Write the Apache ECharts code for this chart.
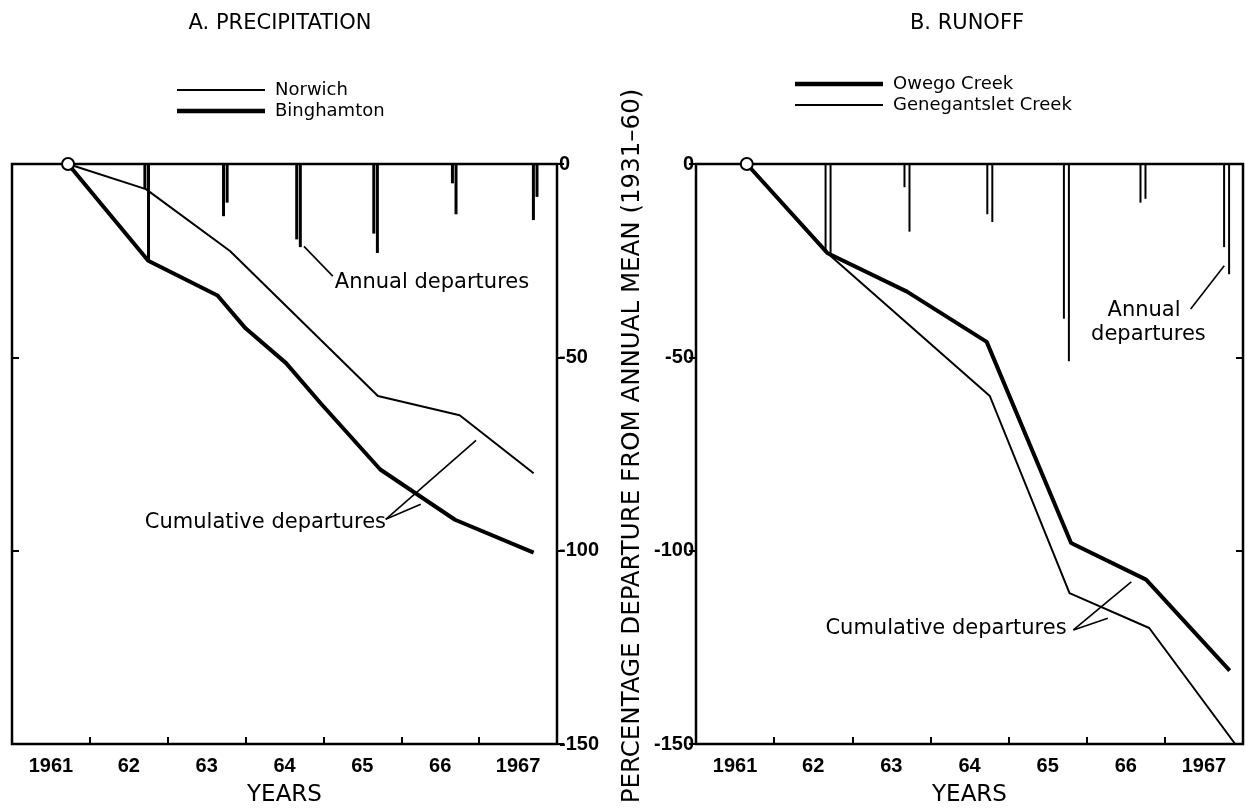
<!DOCTYPE html>
<html>
<head>
<meta charset="utf-8">
<script src="https://cdn.jsdelivr.net/npm/echarts@6/dist/echarts.min.js"></script>
<style>
  html, body { margin: 0; padding: 0; background: #fff; }
  #chart { width: 1247px; height: 812px; }
</style>
</head>
<body>
<div id="chart"></div>
<script>
const years = ['1961', '62', '63', '64', '65', '66', '1967'];

// cumulative departures, [decimal year, percent]
const norwichCum = [[1961.72, 0], [1962.72, -6.5], [1963.8, -22.5], [1965.7, -60], [1966.75, -65], [1967.7, -80]];
const binghamtonCum = [[1961.72, 0], [1962.75, -25], [1963.64, -34], [1964.0, -42.5], [1964.52, -51.5],
  [1964.97, -62], [1965.73, -79], [1966.69, -92], [1967.7, -100.5]];
const owegoCum = [[1961.65, 0], [1962.68, -23], [1963.7, -33], [1964.72, -46], [1965.8, -98], [1966.76, -107.5], [1967.83, -131]];
const genegantsletCum = [[1961.65, 0], [1962.68, -23], [1964.76, -60], [1965.78, -111], [1966.8, -120], [1967.9, -150]];

// annual departures
const barYearsA = [1962.73, 1963.74, 1964.68, 1965.67, 1966.68, 1967.72];
const norwichAnnual = [-6.5, -13.5, -19.5, -18, -5, -14.5];
const binghamtonAnnual = [-25, -10, -21.5, -23, -13, -8.5];
const barYearsB = [1962.69, 1963.7, 1964.76, 1965.74, 1966.72, 1967.79];
const owegoAnnual = [-23, -6, -13, -40, -10, -21.5];
const genegantsletAnnual = [-23.5, -17.5, -15, -51, -9, -28.5];

// annotation leaders and text anchors (data coordinates)
const leadersA = [[[1964.75, -21.3], [1965.12, -29]], [[1965.8, -91.9], [1966.96, -71.5]], [[1965.8, -91.9], [1966.25, -88]]];
const notesA = [[1965.14, -30.7, 'Annual departures'], [1962.7, -92.8, 'Cumulative departures']];
const leadersB = [[[1967.33, -37.5], [1967.76, -26.3]], [[1965.83, -120.5], [1966.57, -108.1]], [[1965.83, -120.5], [1966.27, -117.5]]];
const notesB = [[1966.26, -38, 'Annual'], [1966.05, -44, 'departures'], [1962.65, -120.1, 'Cumulative departures']];

const ink = '#000';
const font = 'Liberation Sans, Arial, sans-serif';
const wide = 'DejaVu Sans, Liberation Sans, sans-serif';
const thinIcon = 'path://M0,0H88V2H0Z';
const thickIcon = 'path://M0,0H88V4.5H0Z';

function pairs(xs, ys) {
  return xs.map((x, i) => [x, ys[i]]);
}

function catAxis(grid) {
  return {
    type: 'category', gridIndex: grid, data: years, position: 'bottom',
    boundaryGap: true,
    name: 'YEARS', nameLocation: 'middle', nameGap: 40,
    nameTextStyle: { color: ink, fontSize: 23, fontFamily: wide },
    axisLine: { show: false, onZero: false },
    axisTick: { show: true, inside: true, length: 7, lineStyle: { color: ink, width: 2 } },
    axisLabel: { color: ink, fontSize: 20, fontWeight: 'bold', fontFamily: font, margin: 12 },
    splitLine: { show: false }
  };
}
function valAxis(grid) {
  return { type: 'value', gridIndex: grid, min: 1961, max: 1968, show: false, position: 'top',
    axisLine: { onZero: false } };
}
function yAxis(grid, pos, labeled) {
  return {
    type: 'value', gridIndex: grid, position: pos, min: -150, max: 0, interval: 50,
    axisLine: { show: false, onZero: false },
    axisTick: { show: true, inside: !labeled, length: 7, lineStyle: { color: ink, width: 2 } },
    axisLabel: { show: labeled, color: ink, fontSize: 20, fontWeight: 'bold', fontFamily: font, margin: 2 },
    splitLine: { show: false }
  };
}
function cumLine(name, data, x, y, width) {
  return {
    name: name, type: 'line', xAxisIndex: x, yAxisIndex: y, data: data,
    symbol: 'none', lineStyle: { color: ink, width: width }, itemStyle: { color: ink }, z: 3
  };
}
function annualBars(name, data, x, y, width, gap) {
  return {
    name: name, type: 'bar', xAxisIndex: x, yAxisIndex: y, data: data,
    barWidth: width, barGap: gap, itemStyle: { color: ink }, z: 2
  };
}
function notes(x, y, start, leaders, labels) {
  return {
    name: 'notes', type: 'scatter', xAxisIndex: x, yAxisIndex: y, data: [start],
    symbol: 'emptyCircle', symbolSize: 12,
    itemStyle: { color: ink, borderColor: ink, borderWidth: 2, opacity: 1 }, z: 4,
    markLine: {
      silent: true, symbol: ['none', 'none'],
      lineStyle: { color: ink, width: 1.6, type: 'solid' },
      label: { show: false },
      data: leaders.map(l => [{ coord: l[0] }, { coord: l[1] }])
    },
    markPoint: {
      silent: true, symbol: 'rect', symbolSize: 1, itemStyle: { color: 'rgba(0,0,0,0)' },
      label: { show: true, position: 'right', distance: 0, color: ink, fontSize: 21, fontFamily: wide },
      data: labels.map(n => ({ coord: [n[0], n[1]], label: { formatter: n[2] } }))
    }
  };
}
function legendFor(names, icons, left, top) {
  return {
    data: names.map((n, i) => ({ name: n, icon: icons[i] })),
    left: left, top: top, orient: 'vertical', itemGap: 3,
    itemWidth: 88, itemHeight: 14,
    textStyle: { color: ink, fontSize: 18, fontFamily: wide, padding: [0, 0, 0, 5] }
  };
}

const chart = echarts.init(document.getElementById('chart'));
chart.setOption({
  animation: false,
  backgroundColor: '#fff',
  textStyle: { fontFamily: font, color: ink },
  title: [
    { text: 'A. PRECIPITATION', left: 275, top: 8, textAlign: 'center',
      textStyle: { color: ink, fontSize: 21, fontWeight: 'normal', fontFamily: wide } },
    { text: 'B. RUNOFF', left: 962, top: 8, textAlign: 'center',
      textStyle: { color: ink, fontSize: 21, fontWeight: 'normal', fontFamily: wide } }
  ],
  legend: [
    legendFor(['Norwich', 'Binghamton'], [thinIcon, thickIcon], 172, 76),
    legendFor(['Owego Creek', 'Genegantslet Creek'], [thickIcon, thinIcon], 790, 70)
  ],
  grid: [
    { left: 12, right: 690, top: 164, bottom: 64, show: true, borderColor: ink, borderWidth: 2.5, backgroundColor: 'transparent' },
    { left: 696, right: 4, top: 164, bottom: 64, show: true, borderColor: ink, borderWidth: 2.5, backgroundColor: 'transparent' }
  ],
  xAxis: [catAxis(0), valAxis(0), catAxis(1), valAxis(1)],
  yAxis: [yAxis(0, 'right', true), yAxis(0, 'left', false), yAxis(1, 'left', true), yAxis(1, 'right', false)],
  graphic: [{
    type: 'text', x: 633, y: 446, rotation: Math.PI / 2,
    style: { text: 'PERCENTAGE DEPARTURE FROM ANNUAL MEAN (1931\u201360)', fill: ink, fontSize: 24.5,
      fontFamily: wide, textAlign: 'center', textVerticalAlign: 'middle' }
  }],
  series: [
    annualBars('Norwich annual', pairs(barYearsA, norwichAnnual), 1, 0, 3, '20%'),
    annualBars('Binghamton annual', pairs(barYearsA, binghamtonAnnual), 1, 0, 3, '20%'),
    cumLine('Norwich', norwichCum, 1, 0, 2),
    cumLine('Binghamton', binghamtonCum, 1, 0, 4),
    notes(1, 0, norwichCum[0], leadersA, notesA),
    annualBars('Owego annual', pairs(barYearsB, owegoAnnual), 3, 2, 2, '150%'),
    annualBars('Genegantslet annual', pairs(barYearsB, genegantsletAnnual), 3, 2, 2, '150%'),
    cumLine('Owego Creek', owegoCum, 3, 2, 4),
    cumLine('Genegantslet Creek', genegantsletCum, 3, 2, 2),
    notes(3, 2, owegoCum[0], leadersB, notesB)
  ]
});
</script>
</body>
</html>
